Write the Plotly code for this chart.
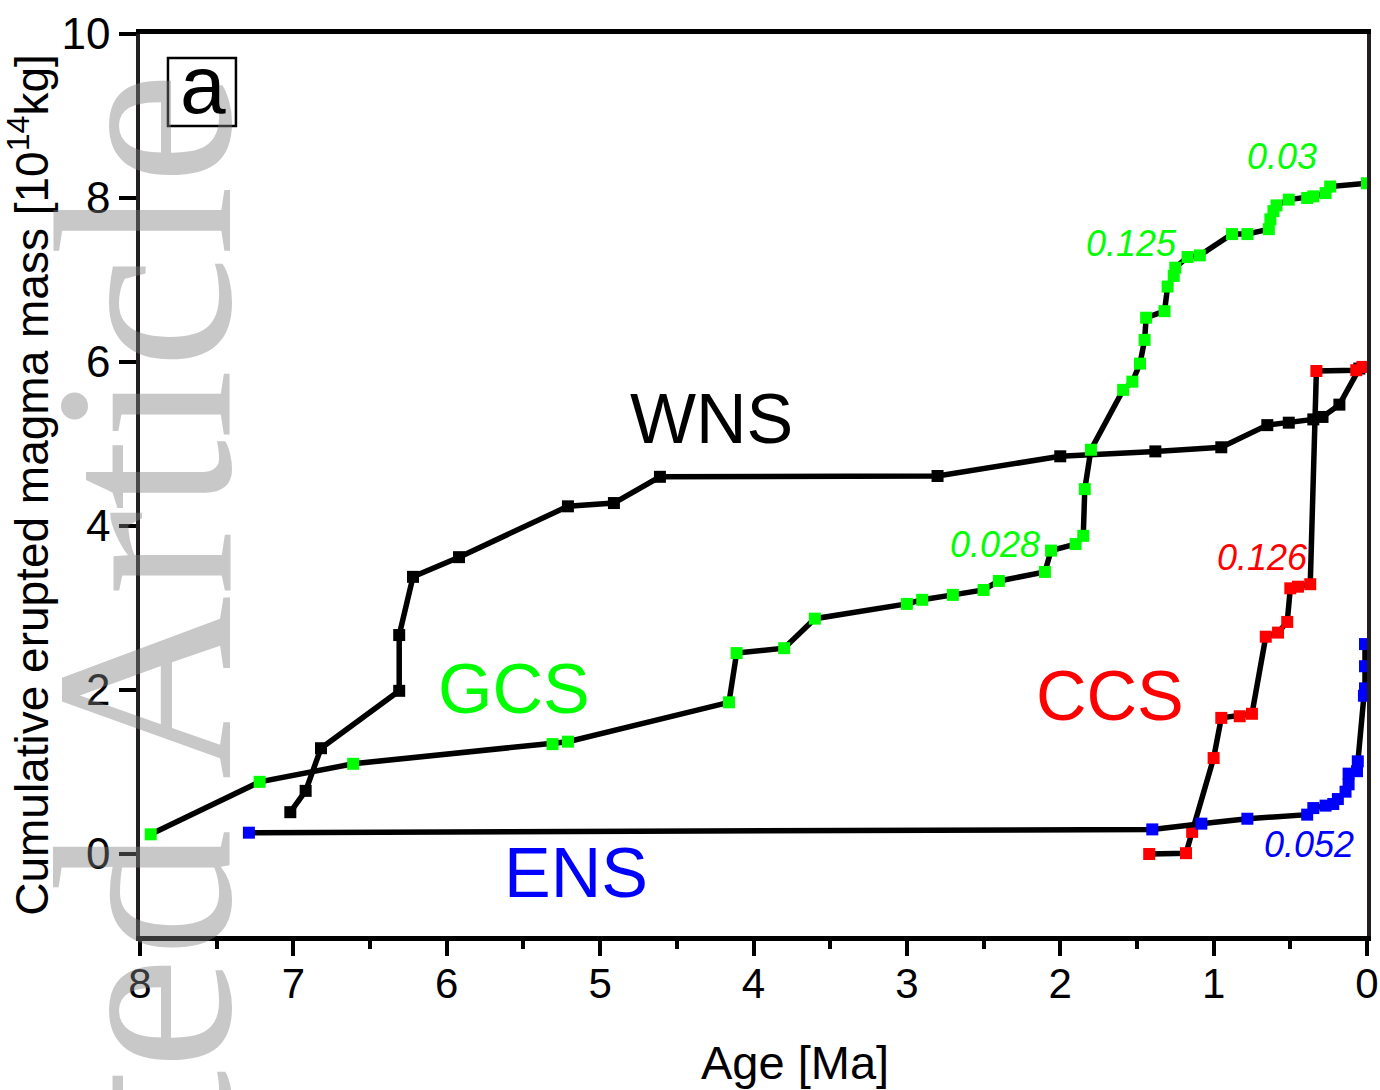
import plotly.graph_objects as go

# Cumulative erupted magma mass vs. age for four volcanic systems
wns_age = [7.02, 6.92, 6.82, 6.31, 6.31, 6.22, 5.92, 5.21, 4.91, 4.61, 2.80, 2.00,
           1.38, 0.95, 0.65, 0.51, 0.35, 0.29, 0.18, 0.05]
wns_mass = [0.51, 0.77, 1.29, 1.99, 2.67, 3.38, 3.62, 4.24, 4.28, 4.60, 4.61, 4.85,
            4.91, 4.96, 5.23, 5.26, 5.30, 5.33, 5.48, 5.92]

gcs_age = [7.93, 7.22, 6.61, 5.31, 5.21, 4.16, 4.11, 3.80, 3.60, 3.00, 2.90, 2.70,
           2.50, 2.40, 2.10, 2.06, 1.90, 1.85, 1.84, 1.80, 1.59, 1.53, 1.48, 1.45,
           1.44, 1.32, 1.30, 1.26, 1.25, 1.17, 1.09, 0.88, 0.78, 0.64, 0.63, 0.61,
           0.59, 0.51, 0.39, 0.35, 0.27, 0.24, 0.00]
gcs_mass = [0.24, 0.88, 1.10, 1.34, 1.37, 1.85, 2.45, 2.51, 2.87, 3.05, 3.10, 3.16,
            3.22, 3.33, 3.44, 3.70, 3.78, 3.88, 4.45, 4.93, 5.66, 5.76, 5.98, 6.27,
            6.54, 6.62, 6.92, 7.05, 7.15, 7.28, 7.30, 7.56, 7.56, 7.62, 7.74, 7.84,
            7.91, 7.98, 8.00, 8.02, 8.06, 8.14, 8.18]

ccs_age = [1.42, 1.18, 1.14, 1.00, 0.95, 0.83, 0.75, 0.66, 0.58, 0.52, 0.50, 0.45,
           0.37, 0.33, 0.07, 0.03]
ccs_mass = [0.00, 0.01, 0.27, 1.17, 1.66, 1.68, 1.71, 2.65, 2.70, 2.83, 3.24, 3.26,
            3.29, 5.89, 5.90, 5.94]

ens_age = [7.29, 1.40, 1.08, 0.78, 0.39, 0.35, 0.27, 0.22, 0.19, 0.14, 0.12, 0.12,
           0.065, 0.06, 0.02, 0.013, 0.013, 0.013]
ens_mass = [0.26, 0.30, 0.37, 0.43, 0.48, 0.56, 0.59, 0.61, 0.67, 0.76, 0.85, 0.98,
            1.01, 1.13, 1.93, 2.02, 2.29, 2.56]

systems = [
    ("WNS", wns_age, wns_mass, "#000000"),
    ("GCS", gcs_age, gcs_mass, "#00ff00"),
    ("CCS", ccs_age, ccs_mass, "#ff0000"),
    ("ENS", ens_age, ens_mass, "#0000ff"),
]

# name labels and eruption-rate labels
name_labels = [("WNS", 4.275, 5.30, "#000000"), ("GCS", 5.56, 2.01, "#00ff00"),
               ("CCS", 1.673, 1.93, "#ff0000"), ("ENS", 5.16, -0.23, "#0000ff")]
rate_labels = [("0.03", 0.556, 8.51, "#00ff00"), ("0.125", 1.536, 7.45, "#00ff00"),
               ("0.028", 2.425, 3.77, "#00ff00"), ("0.126", 0.68, 3.61, "#ff0000"),
               ("0.052", 0.38, 0.12, "#0000ff")]

FONT = "Liberation Sans, Arial, sans-serif"

fig = go.Figure()
for name, age, mass, color in systems:
    fig.add_trace(go.Scatter(
        x=age, y=mass, name=name, mode="lines+markers",
        line=dict(color="black", width=5.5),
        marker=dict(symbol="square", size=12, color=color, line=dict(width=0)),
    ))

annotations = []
# journal watermark
annotations.append(dict(
    text="Accepted Article", textangle=-90, xref="paper", yref="paper",
    x=0.0033, y=0.0044, xanchor="center", yanchor="middle", showarrow=False,
    font=dict(family="Liberation Serif, Times New Roman, serif", size=255,
              color="rgba(128,128,128,0.43)"),
))
for txt, x, y, c in name_labels:
    annotations.append(dict(text=txt, x=x, y=y, xref="x", yref="y", showarrow=False,
                            xanchor="center", yanchor="middle",
                            font=dict(family=FONT, size=70, color=c)))
for txt, x, y, c in rate_labels:
    annotations.append(dict(text=f"<i>{txt}</i>", x=x, y=y, xref="x", yref="y",
                            xanchor="center", yanchor="middle",
                            showarrow=False, font=dict(family=FONT, size=36, color=c)))
# panel letter
annotations.append(dict(text="a", xref="paper", yref="paper", x=0.0513, y=0.944,
                        xanchor="center", yanchor="middle",
                        showarrow=False, font=dict(family=FONT, size=82, color="black")))
# x-axis title
annotations.append(dict(text="Age [Ma]", xref="paper", yref="paper", x=0.534, y=-0.1397,
                        xanchor="center", yanchor="middle",
                        showarrow=False, font=dict(family=FONT, size=47, color="black")))

fig.update_layout(
    width=1380, height=1090, autosize=False,
    margin=dict(l=140, r=13, t=34, b=154, pad=0),
    paper_bgcolor="white", plot_bgcolor="white",
    showlegend=False,
    font=dict(family=FONT, color="black"),
    annotations=annotations,
    shapes=[dict(type="rect", xref="paper", yref="paper", x0=0.0228, x1=0.0782,
                 y0=0.898, y1=0.9734, line=dict(color="black", width=2.5))],
    xaxis=dict(
        range=[8, 0], tickmode="linear", tick0=0, dtick=1,
        ticks="outside", ticklen=15, tickwidth=4, tickcolor="black",
        minor=dict(ticks="outside", dtick=0.5, ticklen=8, tickwidth=4, tickcolor="black"),
        showline=True, linewidth=5, linecolor="black", mirror=True,
        showgrid=False, zeroline=False, automargin=False,
        ticklabelstandoff=-8,
        tickfont=dict(family=FONT, size=42),
    ),
    yaxis=dict(
        range=[-1, 10], tickmode="array", tickvals=[0, 2, 4, 6, 8, 10],
        ticks="outside", ticklen=17, tickwidth=4, tickcolor="black",
        showline=True, linewidth=3.5, linecolor="#231f20", mirror=True,
        showgrid=False, zeroline=False, automargin=False,
        tickfont=dict(family=FONT, size=44),
        title=dict(text="Cumulative erupted magma mass [10<sup>14</sup>kg]",
                   font=dict(family=FONT, size=46), standoff=2),
    ),
)

fig.write_html("out.html")
